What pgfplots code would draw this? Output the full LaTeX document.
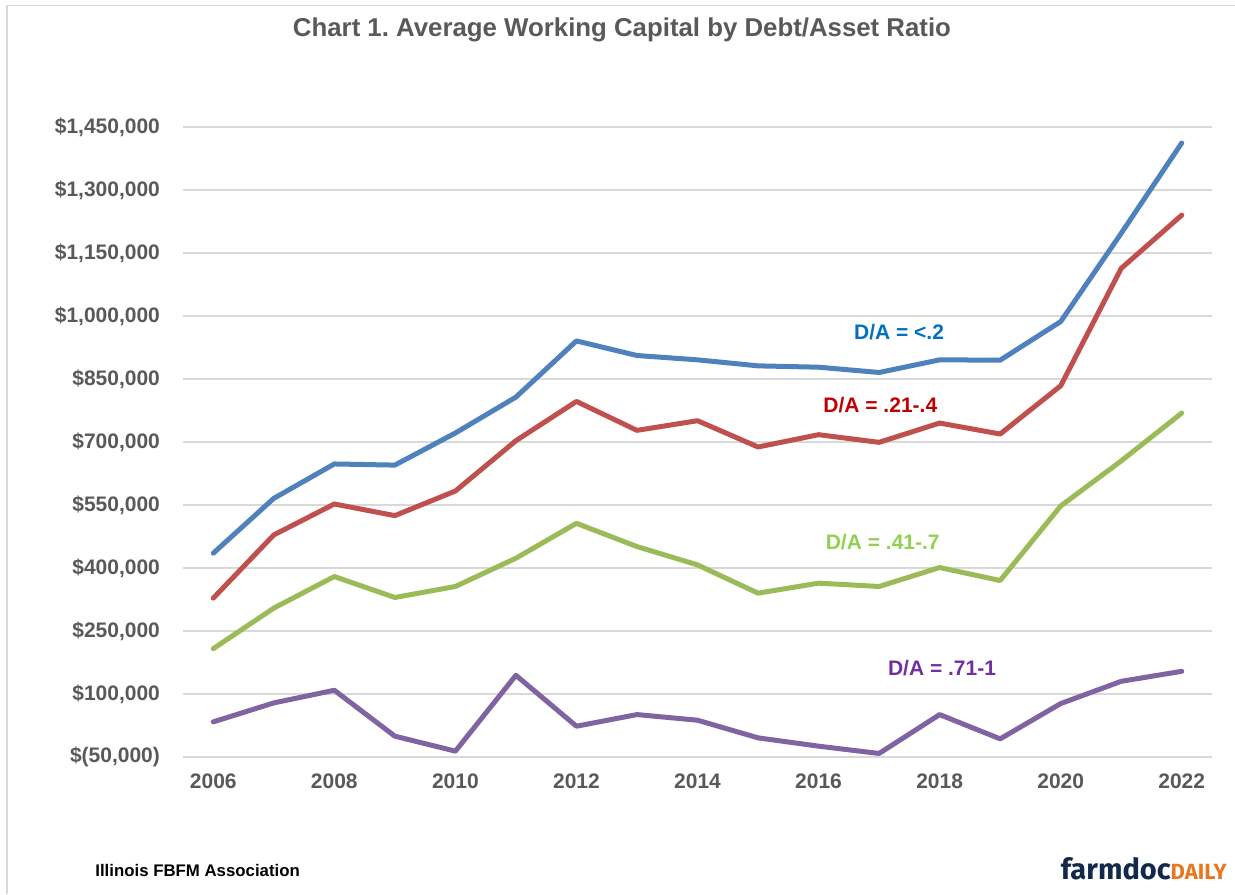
\documentclass[border=0pt]{standalone}
\usepackage{fontspec}
\setmainfont{Liberation Sans}
\newfontfamily\logofont{Fira Sans}
\usepackage{pgfplots}
\pgfplotsset{compat=1.18}
\definecolor{cblue}{RGB}{79,129,189}
\definecolor{cred}{RGB}{192,80,77}
\definecolor{cgreen}{RGB}{155,187,89}
\definecolor{cpurple}{RGB}{128,100,162}
\definecolor{lblue}{RGB}{0,112,192}
\definecolor{lred}{RGB}{192,0,0}
\definecolor{lgreen}{RGB}{146,208,80}
\definecolor{lpurple}{RGB}{112,48,160}
\definecolor{tgray}{RGB}{89,89,89}
\definecolor{gridgray}{RGB}{217,217,217}
\definecolor{navy}{RGB}{19,41,75}
\definecolor{logoorange}{RGB}{232,119,34}

\pgfplotstableread{
year blue red green purple
2006 435200 328200 207900 33600
2007 565800 478700 304500 78800
2008 647700 552400 379700 108900
2009 645000 524700 329800 -400
2010 721400 583300 356000 -36100
2011 806900 703100 423300 144500
2012 940700 796600 506400 23300
2013 905900 727700 451000 51000
2014 895600 750700 407400 37600
2015 881300 688100 340100 -4400
2016 878100 717400 363900 -24200
2017 865500 699200 356000 -41600
2018 895600 745100 401100 51000
2019 894800 719000 370200 -6800
2020 986700 833800 547600 77200
2021 1197000 1113400 655000 130200
2022 1412000 1240100 768900 154000
}\datatable

\begin{document}
\frenchspacing
\begin{tikzpicture}[x=1pt,y=1pt]
\useasboundingbox (-91.5,-68.5) rectangle (526,378.5);
\draw[gridgray, line width=0.8pt] (-88,-68.5) -- (-88,375.75) -- (526,375.75);
\begin{axis}[
  at={(0,0)}, anchor=south west,
  scale only axis,
  width=514.5pt, height=315pt,
  xmin=2005.5, xmax=2022.5,
  ymin=-50000, ymax=1450000,
  scaled y ticks=false,
  axis line style={draw=none},
  tick style={draw=none},
  ymajorgrids,
  grid style={gridgray, line width=0.8pt},
  xtick={2006,2008,...,2022},
  xticklabels={2006,2008,2010,2012,2014,2016,2018,2020,2022},
  ytick={-50000,100000,250000,400000,550000,700000,850000,1000000,1150000,1300000,1450000},
  yticklabels={{\$(50,000)},{\$100,000},{\$250,000},{\$400,000},{\$550,000},{\$700,000},{\$850,000},{\$1,000,000},{\$1,150,000},{\$1,300,000},{\$1,450,000}},
  yticklabel style={font=\bfseries\fontsize{10.5}{12}\selectfont, text=tgray, xshift=-8pt},
  xticklabel style={font=\bfseries\fontsize{10.5}{12}\selectfont, text=tgray, yshift=-5pt},
  clip=false,
]
\addplot[cblue, line width=2.5pt, line join=round, line cap=round] table[x=year, y=blue] {\datatable};
\addplot[cred, line width=2.5pt, line join=round, line cap=round] table[x=year, y=red] {\datatable};
\addplot[cgreen, line width=2.5pt, line join=round, line cap=round] table[x=year, y=green] {\datatable};
\addplot[cpurple, line width=2.5pt, line join=round, line cap=round] table[x=year, y=purple] {\datatable};
\node[text=lblue, font=\bfseries\fontsize{10.5}{12}\selectfont] at (axis cs:2017.33,962700) {D/A = <.2};
\node[text=lred, font=\bfseries\fontsize{10.5}{12}\selectfont] at (axis cs:2017.02,786800) {D/A = .21-.4};
\node[text=lgreen, font=\bfseries\fontsize{10.5}{12}\selectfont] at (axis cs:2017.06,461200) {D/A = .41-.7};
\node[text=lpurple, font=\bfseries\fontsize{10.5}{12}\selectfont] at (axis cs:2018.04,161000) {D/A = .71-1};
\end{axis}
\node[text=tgray, font=\bfseries\fontsize{12.9}{15}\selectfont] at (219.5,363.5) {Chart 1. Average Working Capital by Debt/Asset Ratio};
\node[anchor=west, inner sep=0pt, font=\bfseries\fontsize{8.4}{10}\selectfont] at (-44,-56.9) {Illinois FBFM Association};
\node[anchor=base east, inner sep=0pt] at (522,-61) {{\logofont\bfseries\fontsize{14.5}{16}\selectfont\color{navy}farmdoc}{\logofont\bfseries\fontsize{11}{12}\selectfont\color{logoorange}DAILY}};
\end{tikzpicture}
\end{document}
